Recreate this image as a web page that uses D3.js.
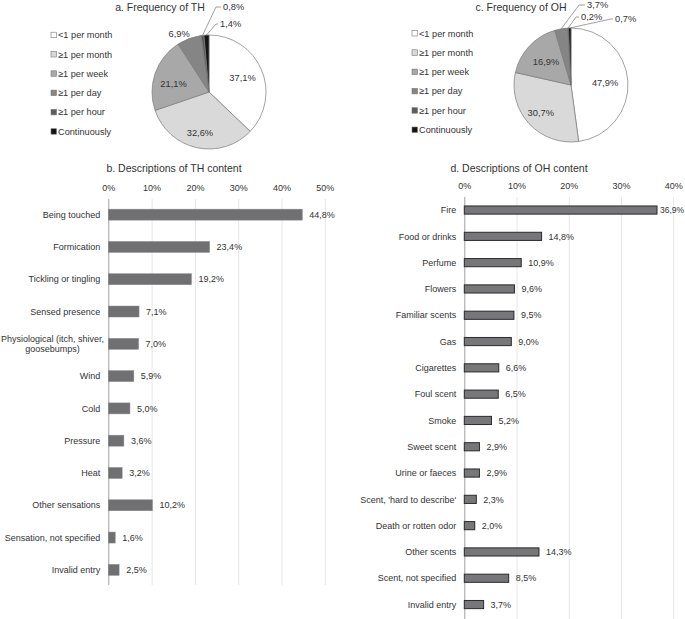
<!DOCTYPE html>
<html><head><meta charset="utf-8">
<script src="https://cdn.jsdelivr.net/npm/d3@7"></script>
<style>
body{margin:0;background:#fff;}
text{font-family:"Liberation Sans",Arial,sans-serif;fill:#333;}
</style></head>
<body><svg id="c" width="685" height="619"></svg>
<script>
// ---------- DATA ----------
const freqCategories = ["<1 per month","\u22651 per month","\u22651 per week","\u22651 per day","\u22651 per hour","Continuously"];
const freqTH = [37.1, 32.6, 21.1, 6.9, 0.8, 1.4];
const freqOH = [47.9, 30.7, 16.9, 3.7, 0.2, 0.7];

const thCategories = ["Being touched","Formication","Tickling or tingling","Sensed presence",
  "Physiological (itch, shiver,|goosebumps)","Wind","Cold","Pressure","Heat","Other sensations",
  "Sensation, not specified","Invalid entry"];
const thValues = [44.8, 23.4, 19.2, 7.1, 7.0, 5.9, 5.0, 3.6, 3.2, 10.2, 1.6, 2.5];
const thTicks = [0,10,20,30,40,50];

const ohCategories = ["Fire","Food or drinks","Perfume","Flowers","Familiar scents","Gas","Cigarettes",
  "Foul scent","Smoke","Sweet scent","Urine or faeces","Scent, 'hard to describe'","Death or rotten odor",
  "Other scents","Scent, not specified","Invalid entry"];
const ohValues = [36.9, 14.8, 10.9, 9.6, 9.5, 9.0, 6.6, 6.5, 5.2, 2.9, 2.9, 2.3, 2.0, 14.3, 8.5, 3.7];
const ohTicks = [0,10,20,30,40];

// ---------- STYLE / LAYOUT ----------
const sliceColors = ["#ffffff","#d9d9d9","#a8a8a8","#858585","#5c5c5c","#141414"];
const loc = d3.formatLocale({decimal:",", thousands:".", grouping:[3], currency:["","%"]});
const fmt1 = loc.format(".1f");
const pct = v => fmt1(v) + "%";
const svg = d3.select("#c");

// ---------- PIES ----------
function drawPie(cfg){
  const g = svg.append("g");
  g.append("text").attr("x", cfg.titleX).attr("y", 11).attr("text-anchor","middle")
    .attr("font-size", 10.5).text(cfg.title);
  const R = 57;
  const pie = d3.pie().sort(null).value(d=>d)(cfg.values);
  const arc = d3.arc().innerRadius(0).outerRadius(R);
  const pg = g.append("g").attr("transform", `translate(${cfg.cx},${cfg.cy})`);
  pg.selectAll("path").data(pie).join("path")
    .attr("d", arc).attr("fill",(d,i)=>sliceColors[i])
    .attr("stroke","#7a7a7a").attr("stroke-width",0.7);
  pie.forEach((d,i)=>{
    const mid = (d.startAngle + d.endAngle)/2;
    const lay = cfg.labels[i];
    if(lay.type === "in" || lay.type === "out"){
      const r = lay.r * R;
      let x = Math.sin(mid)*r + (lay.dx||0), y = -Math.cos(mid)*r + (lay.dy||0);
      pg.append("text").attr("x",x).attr("y",y+3.3).attr("text-anchor","middle")
        .attr("font-size",9.3).text(pct(cfg.values[i]));
    } else {
      const ex = Math.sin(mid)*R, ey = -Math.cos(mid)*R;
      pg.append("polyline").attr("points",`${ex},${ey} ${lay.kx},${lay.ky} ${lay.tx-2},${lay.ky}`)
        .attr("fill","none").attr("stroke","#777").attr("stroke-width",0.7);
      pg.append("text").attr("x",lay.tx).attr("y",lay.ky+3.3).attr("font-size",9.3).text(pct(cfg.values[i]));
    }
  });
  // legend
  const lg = g.append("g");
  freqCategories.forEach((c,i)=>{
    const y = cfg.legY + i*19.3;
    lg.append("rect").attr("x",cfg.legX).attr("y",y-2.8).attr("width",5.5).attr("height",5.5)
      .attr("fill",sliceColors[i]).attr("stroke","#777").attr("stroke-width",0.6);
    lg.append("text").attr("x",cfg.legX+7).attr("y",y+3.2).attr("font-size",9.2).text(c);
  });
}

drawPie({title:"a. Frequency of TH", titleX:160, cx:209, cy:92, values:freqTH, legX:51, legY:35,
  labels:[{type:"in",r:0.64},{type:"in",r:0.74},{type:"in",r:0.66,dy:4},{type:"out",r:1.15,dx:-7,dy:3},
          {type:"lead",kx:7,ky:-85,tx:14},{type:"lead",kx:7,ky:-68,tx:11}]});
drawPie({title:"c. Frequency of OH", titleX:521, cx:571, cy:85, values:freqOH, legX:412, legY:33.3,
  labels:[{type:"in",r:0.6},{type:"in",r:0.72},{type:"in",r:0.6},
          {type:"lead",kx:8,ky:-80,tx:16},{type:"lead",kx:5,ky:-68,tx:10},{type:"lead",kx:40,ky:-66,tx:44}]});

// ---------- BAR CHARTS ----------
function drawBars(cfg){
  const g = svg.append("g");
  g.append("text").attr("x",cfg.titleX).attr("y",171.5).attr("text-anchor","middle")
    .attr("font-size",10.5).text(cfg.title);
  const x = d3.scaleLinear().domain([0, d3.max(cfg.ticks)]).range(cfg.xRange);
  const y = d3.scaleBand().domain(cfg.cats).range(cfg.yRange)
    .paddingInner(cfg.pad).paddingOuter(cfg.pad/2);
  const ax = g.append("g").attr("transform",`translate(0,${cfg.gridTop})`)
    .call(d3.axisTop(x).tickValues(cfg.ticks).tickSize(-(cfg.gridBottom-cfg.gridTop)).tickPadding(8)
      .tickFormat(d=>d+"%"));
  ax.select(".domain").remove();
  ax.selectAll("line").attr("stroke",d=>d===0?"#a0a0a0":"#e6e6e6").attr("stroke-width",1);
  ax.selectAll("text").attr("font-size",9).attr("font-family",null).attr("fill","#333");
  g.selectAll("rect.bar").data(cfg.values).join("rect").attr("class","bar")
    .attr("x",x(0)).attr("y",(d,i)=>y(cfg.cats[i]))
    .attr("width",d=>x(d)-x(0)).attr("height",y.bandwidth())
    .attr("fill",cfg.fill).attr("stroke",cfg.stroke).attr("stroke-width",cfg.strokeW);
  cfg.values.forEach((v,i)=>{
    const cy = y(cfg.cats[i]) + y.bandwidth()/2;
    const vt = g.append("text").attr("y",cy+3.2).attr("font-size",9).text(pct(v));
    const vw = vt.node().getComputedTextLength();
    const fits = x(v)+7+vw <= 684;
    vt.attr("x", fits ? x(v)+7 : x(v)+3).attr("font-size", fits ? 9 : 8.5);
    const lines = cfg.cats[i].split("|");
    if(lines.length===1){
      g.append("text").attr("x",x(0)-8).attr("y",cy+3.2).attr("text-anchor","end")
        .attr("font-size",9).text(lines[0]);
    } else {
      const t = g.append("text").attr("font-size",9).attr("text-anchor","middle");
      const tmp = g.append("text").attr("font-size",9).text(lines[0]);
      const w = tmp.node().getComputedTextLength(); tmp.remove();
      const xm = Math.max(x(0)-8-w/2, w/2+1);
      lines.forEach((l,k)=>{
        t.append("tspan").attr("x",xm).attr("y",cy+3.2+(k-(lines.length-1)/2)*10.5).text(l);
      });
    }
  });
}

drawBars({title:"b. Descriptions of TH content", titleX:174, cats:thCategories, values:thValues, ticks:thTicks,
  xRange:[108.3,324.8], yRange:[198.5,586], pad:0.66, gridTop:199, gridBottom:585,
  fill:"#707072", stroke:"#8a8a8a", strokeW:0.5});
drawBars({title:"d. Descriptions of OH content", titleX:519, cats:ohCategories, values:ohValues, ticks:ohTicks,
  xRange:[464.3,673.2], yRange:[196.9,617.7], pad:0.69, gridTop:197, gridBottom:619,
  fill:"#777779", stroke:"#2a2a2a", strokeW:1});
</script></body></html>
